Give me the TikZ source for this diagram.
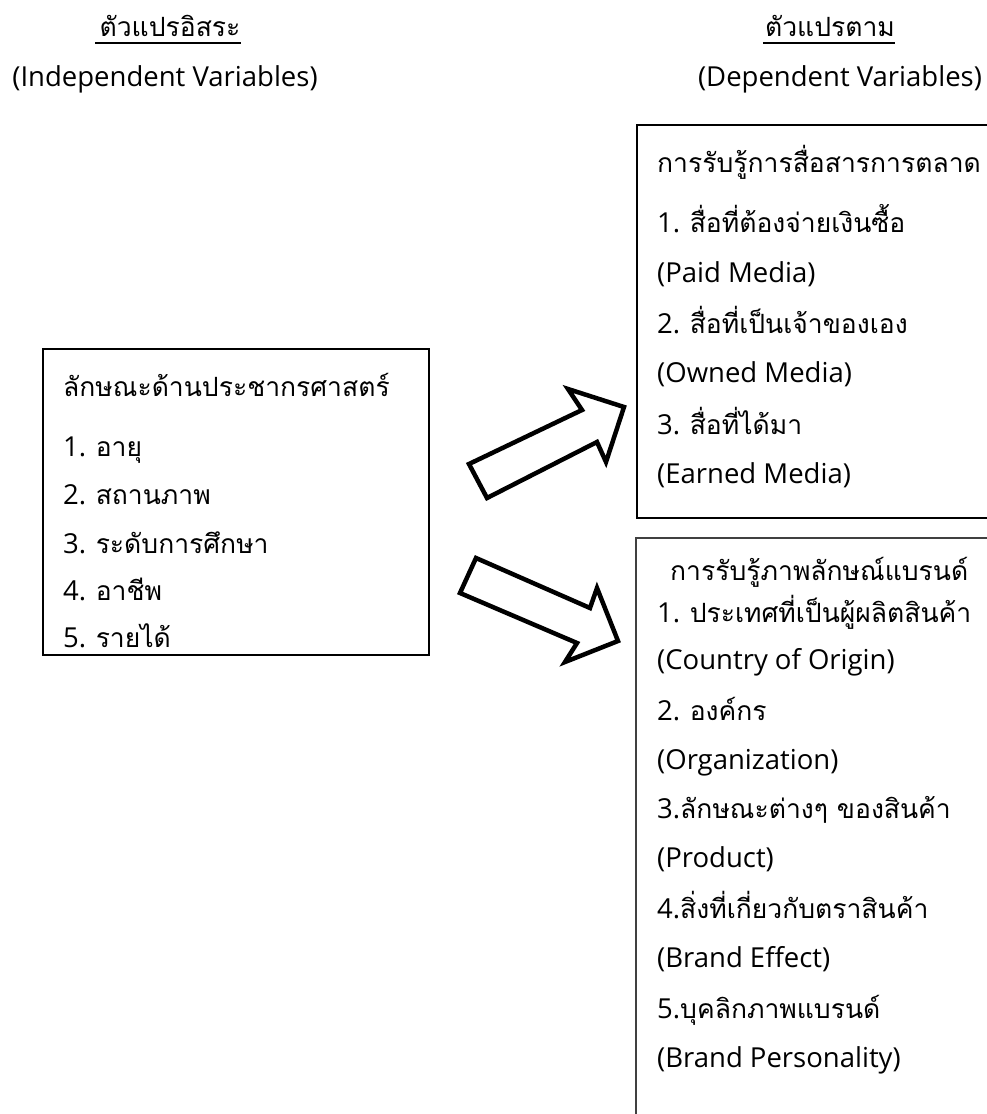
\documentclass[tikz,border=0pt]{standalone}
\usepackage{fontspec}
\setmainfont{Open Sans}
\newfontfamily\thaifont[Script=Thai]{Loma}
\newcommand{\tht}[1]{{\thaifont\fontsize{26.5}{32}\selectfont #1}}
\begin{document}
\begin{tikzpicture}[x=1pt,y=-1pt,
  txt/.style={anchor=base west,inner sep=0pt,font=\fontsize{27.5}{32}\selectfont},
  head/.style={anchor=base,inner sep=0pt,font=\fontsize{27.5}{32}\selectfont},
  frame/.style={draw,line width=1.4pt},
  uline/.style={line width=1.2pt},
  blockarrow/.style={draw,line width=4.5pt,line join=miter,fill=white}]
\clip (0,0) rectangle (987,1114);
\fill[white] (0,0) rectangle (987,1114);

% column headings
\node[head] (hIndep) at (170,36) {\tht{ตัวแปรอิสระ}};
\draw[uline] ([shift={(-4,7)}]hIndep.base west) -- ([shift={(0,7)}]hIndep.base east);
\node[head] (hIndepEn) at (165,86) {(Independent Variables)};
\node[head] (hDep) at (830,36) {\tht{ตัวแปรตาม}};
\draw[uline] ([shift={(-2,7)}]hDep.base west) -- ([shift={(0,7)}]hDep.base east);
\node[head] (hDepEn) at (840,86) {(Dependent Variables)};

% independent variables box
\draw[frame] (43,349) rectangle (429,655);
\node[txt] (d0) at (63,396) {\tht{ลักษณะด้านประชากรศาสตร์}};
\node[txt] (d1) at (63,456) {1. \tht{อายุ}};
\node[txt] (d2) at (63,504) {2. \tht{สถานภาพ}};
\node[txt] (d3) at (63,553) {3. \tht{ระดับการศึกษา}};
\node[txt] (d4) at (63,600) {4. \tht{อาชีพ}};
\node[txt] (d5) at (63,647) {5. \tht{รายได้}};

% marketing communication box
\draw[frame] (637,125) rectangle (1000,518);
\node[txt] (m0) at (657,172) {\tht{การรับรู้การสื่อสารการตลาด}};
\node[txt] (m1) at (657,232) {1. \tht{สื่อที่ต้องจ่ายเงินซื้อ}};
\node[txt] (m2) at (657,282) {(Paid Media)};
\node[txt] (m3) at (657,333) {2. \tht{สื่อที่เป็นเจ้าของเอง}};
\node[txt] (m4) at (657,382) {(Owned Media)};
\node[txt] (m5) at (657,434) {3. \tht{สื่อที่ได้มา}};
\node[txt] (m6) at (657,483) {(Earned Media)};

% brand image box
\draw[frame,draw=black!75,line width=1.8pt] (636,538) rectangle (1000,1130);
\node[txt] (b0) at (670,580) {\tht{การรับรู้ภาพลักษณ์แบรนด์}};
\node[txt] (b1) at (657,622) {1. \tht{ประเทศที่เป็นผู้ผลิตสินค้า}};
\node[txt] (b2) at (657,669) {(Country of Origin)};
\node[txt] (b3) at (657,720) {2. \tht{องค์กร}};
\node[txt] (b4) at (657,769) {(Organization)};
\node[txt] (b5) at (657,818) {3.\tht{ลักษณะต่างๆ ของสินค้า}};
\node[txt] (b6) at (657,867) {(Product)};
\node[txt] (b7) at (657,918) {4.\tht{สิ่งที่เกี่ยวกับตราสินค้า}};
\node[txt] (b8) at (657,967) {(Brand Effect)};
\node[txt] (b9) at (657,1018) {5.\tht{บุคลิกภาพแบรนด์}};
\node[txt] (b10) at (657,1067) {(Brand Personality)};

% block arrows
\draw[blockarrow] (469,464) -- (582,410) -- (568,389) -- (624,407)
  -- (606,462) -- (597,442) -- (487,498) -- cycle;
\draw[blockarrow] (476,558) -- (590,608) -- (597,588) -- (618,641)
  -- (565,662) -- (577,643) -- (460,593) -- cycle;
\end{tikzpicture}
\end{document}
